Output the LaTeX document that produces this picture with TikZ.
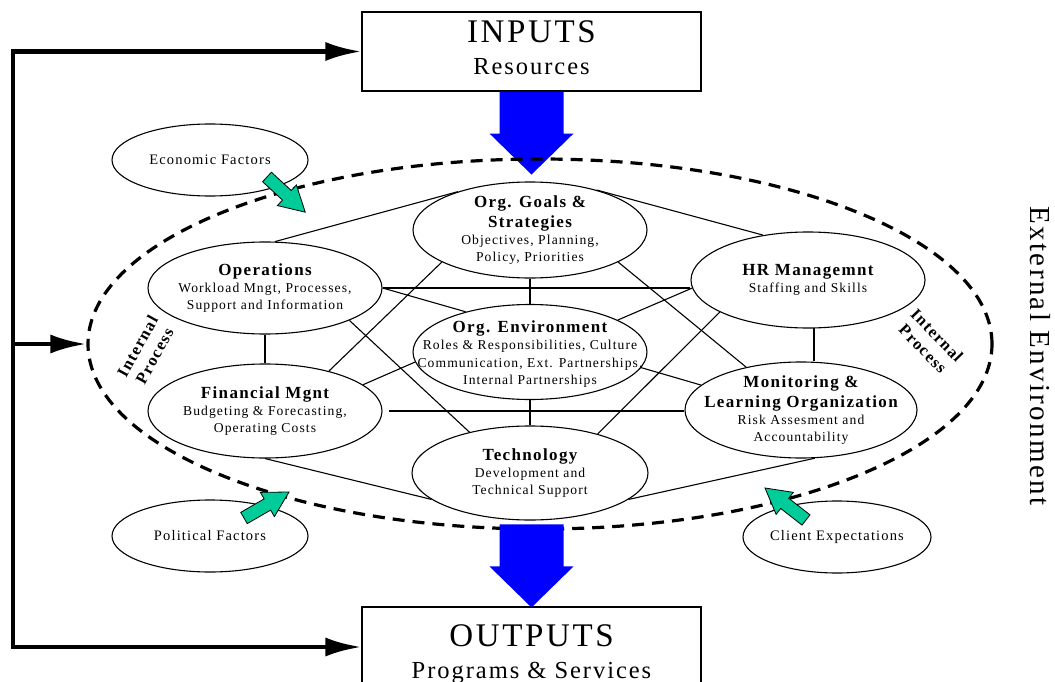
\documentclass[tikz,border=0pt]{standalone}
\usepackage{fontspec}
\setmainfont{Liberation Serif}[LetterSpace=8]
\usetikzlibrary{shapes.geometric,arrows.meta,calc}
\definecolor{garrowcol}{RGB}{0,204,153}
\newcommand\dgbig{\fontsize{33}{36}\selectfont}
\newcommand\dgmid{\fontsize{24.5}{28}\selectfont}
\newcommand\dgtitle{\fontsize{17}{20}\selectfont\bfseries}
\newcommand\dgsub{\fontsize{13.6}{17.3}\selectfont}
\newcommand\dgfac{\fontsize{14.5}{17}\selectfont}
\newcommand\dgip{\fontsize{16.5}{19.5}\selectfont\bfseries}
\newcommand\dgext{\fontsize{29}{32}\selectfont}
\begin{document}
\begin{tikzpicture}[x=1pt,y=-1pt,
  oval/.style={ellipse, draw, line width=1.1pt, inner sep=0pt},
  box/.style={rectangle, draw, line width=1.1pt, inner sep=0pt, minimum width=339pt, minimum height=79pt},
  conn/.style={line width=1.1pt},
  fb/.style={line width=4.5pt, line join=miter},
  bigtip/.tip={Latex[length=36pt,width=19pt]},
  txt/.style={align=center, font=\dgsub, inner sep=0pt},
  garr/.pic={\draw[fill=garrowcol, line width=0.8pt, line join=miter]
     (0,-6.5) -- (27,-6.5) -- (27,-14) -- (52,0) -- (27,14) -- (27,6.5) -- (0,6.5) -- cycle;},
  barr/.pic={\fill[blue] (-32,0) -- (-32,42) -- (-42,42) -- (0,83) -- (42,42) -- (32,42) -- (32,0) -- cycle;}
]
\useasboundingbox (0,0) rectangle (1055,682);
\clip (0,0) rectangle (1055,682);

% boxes
\node[box] (IN) at (531.5,51.5) {};
\node[font=\dgbig, anchor=base] (INa) at ($(IN.north)+(0,31.5)$) {INPUTS};
\node[font=\dgmid, anchor=base] (INb) at ($(IN.north)+(0,63.3)$) {Resources};
\node[box, minimum height=80pt] (OUT) at (531.5,647) {};
\node[font=\dgbig, anchor=base] (OUTa) at ($(OUT.north)+(0,40)$) {OUTPUTS};
\node[font=\dgmid, anchor=base] (OUTb) at ($(OUT.north)+(0,72)$) {Programs \& Services};

% top blue arrow (below dashes)
\pic at (IN.south) {barr};

% dashed internal-process ellipse
\node[ellipse, draw, line width=3.2pt, dash pattern=on 12pt off 8pt, minimum width=904pt, minimum height=370pt, inner sep=0pt] (EXT) at (540,344) {};

% bottom blue arrow
\pic at ($(OUT.north)+(0,-82)$) {barr};

% inner ellipses
\node[oval, minimum width=234pt, minimum height=96pt] (G) at (530,230) {};
\node[oval, minimum width=234pt, minimum height=92pt] (O) at (265,288) {};
\node[oval, minimum width=234pt, minimum height=96pt] (H) at (808,280) {};
\node[oval, minimum width=234pt, minimum height=95pt] (E) at (530,352) {};
\node[oval, minimum width=234pt, minimum height=94pt] (F) at (265,411) {};
\node[oval, minimum width=232pt, minimum height=96pt] (M) at (801,410) {};
\node[oval, minimum width=236pt, minimum height=94pt] (T) at (530,473) {};

% factor ellipses
\node[oval, minimum width=196pt, minimum height=72pt] (EF) at (210,160) {};
\node[oval, minimum width=196pt, minimum height=72pt] (PF) at (210,536) {};
\node[oval, minimum width=188pt, minimum height=72pt] (CE) at (837,537) {};

% connectors
\draw[conn] (O.78) -- (G.152);
\draw[conn] (G.31) -- (H.135);
\draw[conn] (O.east) -- (O.east -| H.west);
\draw[conn] (O.east) -- (E.148);
\draw[conn] (O.-21) -- (T.146);
\draw[conn] (O.south) -- (F.north);
\draw[conn] (G.200) -- (F.32);
\draw[conn] (G.south) -- (E.north);
\draw[conn] (G.-20) -- (M.142);
\draw[conn] (E.20) -- (H.184);
\draw[conn] (H.200) -- (T.30);
\draw[conn] (H.-83) -- (H.-83 |- M.north);
\draw[conn] (E.-8) -- (M.166);
\draw[conn] ([xshift=6pt]F.east) -- (F.east -| M.west);
\draw[conn] (F.15) -- (E.185);
\draw[conn] (F.south) -- (T.195);
\draw[conn] (M.-74) -- (T.-15);
\draw[conn] (E.south) -- (T.north);

% texts
\node[txt] (Gt) at (G) {{\dgtitle Org. Goals \&}\\[2.7pt]{\dgtitle Strategies}\\Objectives, Planning,\\Policy, Priorities};
\node[txt] (Ot) at (O) {{\dgtitle Operations}\\Workload Mngt, Processes,\\Support and Information};
\node[txt] (Ht) at (H) {{\dgtitle HR Managemnt}\\Staffing and Skills};
\node[txt] (Et) at ($(E)+(0,2)$) {{\dgtitle Org. Environment}\\Roles \& Responsibilities, Culture\\Communication, Ext. Partnerships,\\Internal Partnerships};
\node[txt] (Ft) at (F) {{\dgtitle Financial Mgnt}\\Budgeting \& Forecasting,\\Operating Costs};
\node[txt] (Mt) at (M) {{\dgtitle Monitoring \&}\\[2.7pt]{\dgtitle Learning Organization}\\Risk Assesment and\\Accountability};
\node[txt] (Tt) at (T) {{\dgtitle Technology}\\Development and\\Technical Support};
\node[font=\dgfac] (EFt) at (EF) {Economic Factors};
\node[font=\dgfac] (PFt) at (PF) {Political Factors};
\node[font=\dgfac] (CEt) at (CE) {Client Expectations};

\node[font=\dgip, align=center, rotate=61, inner sep=0pt] (IPL) at (146,351) {Internal\\Process};
\node[font=\dgip, align=center, rotate=-46, inner sep=0pt] (IPR) at (930,342) {Internal\\Process};

\node[font=\dgext, rotate=-90, anchor=base] (EE) at (1030,356) {External Environment};

% feedback loop
\coordinate (L) at (13,344);
\draw[fb, bigtip-bigtip] (IN.west) -- (IN.west -| L) -- (OUT.west -| L) -- (OUT.west);
\draw[fb, -bigtip] (L |- EXT.west) -- (EXT.west);

% green arrows
\pic[rotate=-42.6] at (267,177) {garr};
\pic[rotate=30] at (244,518) {garr};
\pic[rotate=142] at (806,520) {garr};
\end{tikzpicture}
\end{document}
